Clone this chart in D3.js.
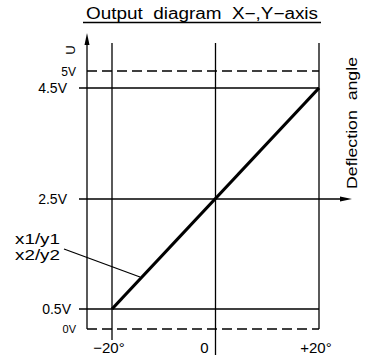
<!DOCTYPE html>
<html>
<head>
<meta charset="utf-8">
<script src="https://cdn.jsdelivr.net/npm/d3@7"></script>
<style>
  body { margin: 0; background: #fff; }
  text { font-family: "Liberation Sans", Arial, sans-serif; fill: #000; white-space: pre; }
</style>
</head>
<body>
<div id="chart"></div>
<script>
// deflection angle ticks (degrees) and their labels
var angles = [-20, 0, 20];
var angleLabels = ['\u221220\u00b0', '0', '+20\u00b0'];

// voltage levels; dashed = supply limits
var levels = [0, 0.5, 2.5, 4.5, 5];
var levelLabels = ['0V', '0.5V', '2.5V', '4.5V', '5V'];
var levelDashed = [true, false, false, false, true];

// output characteristic x1/y1, x2/y2
var output = [
  {angle: -20, volt: 0.5},
  {angle: 20, volt: 4.5}
];

var width = 372, height = 361;

var svg = d3.select('#chart').append('svg')
  .attr('width', width)
  .attr('height', height);

var x = d3.scaleLinear().domain([-20, 20]).range([112, 319]);
// drawing is not to scale, so the voltage axis is piecewise
var y = d3.scaleLinear().domain(levels).range([329, 309, 199, 88, 71]);

var axisX = 87;

// title
svg.append('text')
  .attr('x', 86).attr('y', 19)
  .attr('textLength', 232)
  .attr('lengthAdjust', 'spacingAndGlyphs')
  .style('font-size', '16px')
  .text('Output  diagram  X\u2212,Y\u2212axis');
svg.append('line')
  .attr('x1', 83).attr('x2', 321)
  .attr('y1', 22.5).attr('y2', 22.5)
  .style('stroke', '#000').style('stroke-width', 1.6);

// vertical lines at the angle ticks
var vBottom = {'-20': 340, '0': 355, '20': 329};
svg.selectAll('.vline').data(angles).enter().append('line')
  .attr('class', 'vline')
  .attr('x1', function(d) { return x(d); })
  .attr('x2', function(d) { return x(d); })
  .attr('y1', 43)
  .attr('y2', function(d) { return vBottom[d]; })
  .style('stroke', '#000').style('stroke-width', 1.3);

// horizontal level lines
svg.selectAll('.hline').data(levels).enter().append('line')
  .attr('class', 'hline')
  .attr('x1', function(d, i) { return levelDashed[i] ? axisX : 79; })
  .attr('x2', function(d) { return d === 2.5 ? 342 : x(20); })
  .attr('y1', function(d) { return y(d); })
  .attr('y2', function(d) { return y(d); })
  .style('stroke', '#000').style('stroke-width', 1.3)
  .style('stroke-dasharray', function(d, i) { return levelDashed[i] ? '10,5' : null; });

// vertical axis with arrow
svg.append('line')
  .attr('x1', axisX).attr('x2', axisX)
  .attr('y1', y(0)).attr('y2', 44)
  .style('stroke', '#000').style('stroke-width', 1.3);
svg.append('path')
  .attr('d', 'M' + axisX + ',33L' + (axisX - 2.5) + ',45L' + (axisX + 2.5) + ',45Z')
  .style('fill', '#000');

// horizontal arrow at 2.5V
svg.append('path')
  .attr('d', 'M352,' + y(2.5) + 'L340,' + (y(2.5) - 2.5) + 'L340,' + (y(2.5) + 2.5) + 'Z')
  .style('fill', '#000');

// level labels
var levelSize = {'0': 11, '5': 12};
svg.selectAll('.ylab').data(levels).enter().append('text')
  .attr('class', 'ylab')
  .attr('x', function(d) { return (d === 0 || d === 5) ? 76 : (d === 0.5 ? 71 : 67); })
  .attr('y', function(d) { return y(d) + (d === 0 ? 4 : 5); })
  .attr('text-anchor', 'end')
  .style('font-size', function(d) { return (levelSize[d] || 14) + 'px'; })
  .text(function(d, i) { return levelLabels[i]; });

// angle labels
svg.selectAll('.xlab').data(angles).enter().append('text')
  .attr('class', 'xlab')
  .attr('x', function(d) { return x(d) + (d === 0 ? -11 : -3); })
  .attr('y', 353)
  .attr('text-anchor', 'middle')
  .style('font-size', '15px')
  .text(function(d, i) { return angleLabels[i]; });

// axis titles
svg.append('text')
  .attr('transform', 'translate(75,50)rotate(-90)')
  .attr('text-anchor', 'middle')
  .style('font-size', '13px')
  .text('U');
svg.append('text')
  .attr('transform', 'translate(357,123)rotate(-90)')
  .attr('text-anchor', 'middle')
  .attr('textLength', 132)
  .attr('lengthAdjust', 'spacingAndGlyphs')
  .style('font-size', '14px')
  .text('Deflection  angle');

// output line
var line = d3.line()
  .x(function(d) { return x(d.angle); })
  .y(function(d) { return y(d.volt); });
svg.append('path')
  .datum(output)
  .attr('d', line)
  .style('fill', 'none')
  .style('stroke', '#000')
  .style('stroke-width', 3.2);

// callout
svg.append('text').attr('x', 15).attr('y', 244)
  .attr('textLength', 45).attr('lengthAdjust', 'spacingAndGlyphs')
  .style('font-size', '15px').text('x1/y1');
svg.append('text').attr('x', 15).attr('y', 260)
  .attr('textLength', 45).attr('lengthAdjust', 'spacingAndGlyphs')
  .style('font-size', '15px').text('x2/y2');
svg.append('line')
  .attr('x1', 64).attr('y1', 249)
  .attr('x2', 140).attr('y2', 277)
  .style('stroke', '#000').style('stroke-width', 1.3);
</script>
</body>
</html>
